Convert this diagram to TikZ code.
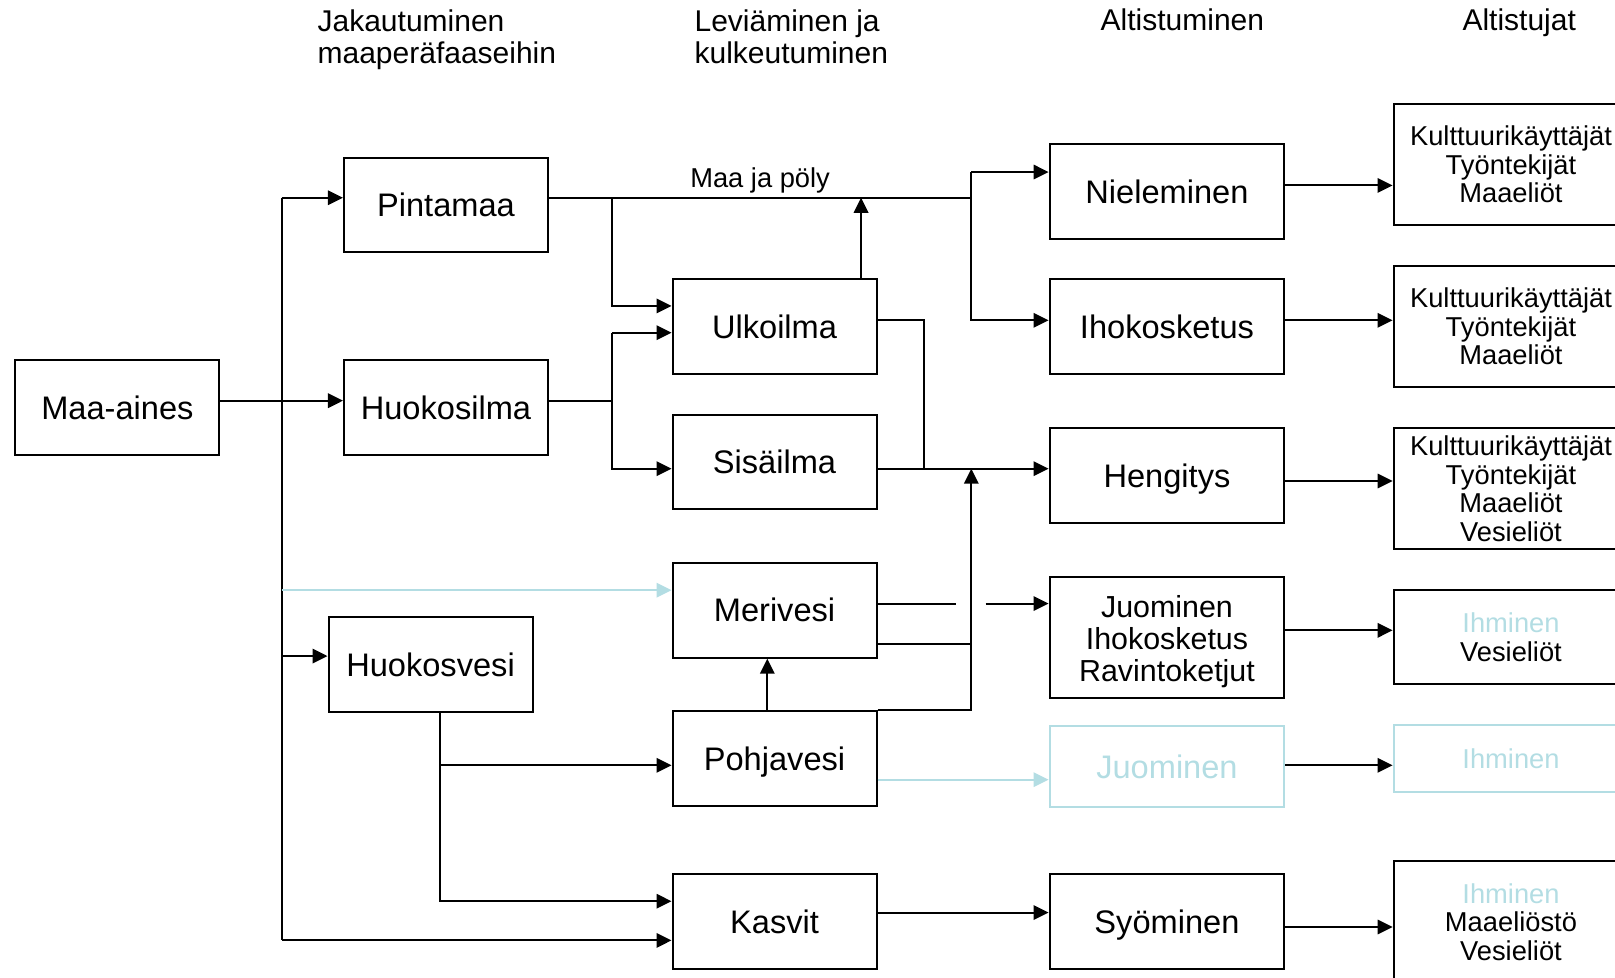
\documentclass[tikz,border=0pt]{standalone}
\usepackage{fontspec}
\setmainfont{Liberation Sans}
\usepackage{tikz}
\usetikzlibrary{positioning,calc,arrows.meta}
\definecolor{vaalea}{HTML}{B3DDE3}

\tikzset{
  laatikko/.style={draw, line width=1pt, minimum width=102pt, minimum height=47.4pt,
    inner sep=0pt, align=center, font=\fontsize{16.3}{16}\selectfont,
    text height=11.7pt, text depth=0pt},
  leve/.style={laatikko, minimum width=117.4pt},
  ryhma/.style={leve, font=\fontsize{13.65}{14.2}\selectfont, text height={}, text depth={}},
  otsikko/.style={inner sep=0pt, font=\fontsize{15}{16}\selectfont},
  viiva/.style={line width=1pt},
  nuoli/.style={line width=1pt, -{Triangle[length=7.5pt,width=7.2pt]}},
}

\begin{document}
\begin{tikzpicture}[x=0.515pt, y=-0.515pt]
    \useasboundingbox (0,0) rectangle (1568,949);

    % otsikot
    \node[otsikko, anchor=north west, align=left] (h1) at (308,9) {Jakautuminen\\maaperäfaaseihin};
    \node[otsikko, anchor=north west, align=left] (h2) at (674,9) {Leviäminen ja\\kulkeutuminen};
    \node[otsikko, anchor=base] (h3) at (1148,30) {Altistuminen};
    \node[otsikko, anchor=base] (h4) at (1475,30) {Altistujat};

    % lähde ja maaperäfaasit
    \node[laatikko] (maa) at (114,396) {Maa-aines};
    \node[laatikko] (pinta) at (433,199) {Pintamaa};
    \node[laatikko] (ilma) at (433,396) {Huokosilma};
    \node[laatikko] (vesi) at (418,645.5) {Huokosvesi};

    % leviäminen
    \node[laatikko] (ulko) at (752,317) {Ulkoilma};
    \node[laatikko] (sisa) at (752,448.5) {Sisäilma};
    \node[laatikko] (meri) at (752,592.5) {Merivesi};
    \node[laatikko] (pohja) at (752,736.5) {Pohjavesi};
    \node[laatikko] (kasvit) at (752,894.5) {Kasvit};

    % altistuminen
    \node[leve] (niel) at (1133,186) {Nieleminen};
    \node[leve] (iho) at (1133,317) {Ihokosketus};
    \node[leve] (heng) at (1133,461.5) {Hengitys};
    \node[leve, minimum height=60.8pt, text height={}, text depth={}, font=\fontsize{15.2}{16}\selectfont]
        (juoma) at (1133,619) {\rule{0pt}{15pt}Juominen\\Ihokosketus\\Ravintoketjut};
    \node[leve, minimum height=40.2pt, draw=vaalea, text=vaalea] (juom) at (1133,744) {Juominen};
    \node[leve] (syo) at (1133,894.5) {Syöminen};

    % altistujat
    \node[ryhma, minimum height=60.3pt] (a1) at (1467,159.5) {Kulttuurikäyttäjät\\Työntekijät\\Maaeliöt};
    \node[ryhma, minimum height=60.8pt] (a2) at (1467,317) {Kulttuurikäyttäjät\\Työntekijät\\Maaeliöt};
    \node[ryhma, minimum height=60.3pt] (a3) at (1467,474.5) {Kulttuurikäyttäjät\\Työntekijät\\Maaeliöt\\Vesieliöt};
    \node[ryhma, minimum height=46.9pt] (a4) at (1467,618.5) {\textcolor{vaalea}{Ihminen}\\Vesieliöt};
    \node[ryhma, minimum height=33.5pt, draw=vaalea, text=vaalea] (a5) at (1467,736.5) {Ihminen};
    \node[ryhma, minimum height=60.8pt] (a6) at (1467,895) {\textcolor{vaalea}{Ihminen}\\Maaeliöstö\\Vesieliöt};

    % haarautumiskohdat
    \coordinate (jako) at ($(maa.east)!0.5!(ilma.west)+(0,-7)$);
    \coordinate (haara1) at (594,0);
    \coordinate (haara2) at (897,0);
    \coordinate (haara3) at (943,0);

    % maa-aines jakautuu faaseihin
    \path ($(pinta.west)+(0,-7)$) coordinate (p1)
          ($(vesi.west)+(0,-8.5)$) coordinate (v1)
          ($(meri.west)+(0,-19.5)$) coordinate (m1)
          ($(kasvit.west)+(0,18.5)$) coordinate (k1);
    \draw[nuoli] ($(maa.east)+(0,-7)$) -- ($(ilma.west)+(0,-7)$);
    \draw[viiva] (jako |- p1) -- (jako |- k1);
    \draw[nuoli] (jako |- p1) -- (p1);
    \draw[nuoli] (jako |- v1) -- (v1);
    \draw[nuoli, vaalea] (jako |- m1) -- (m1);
    \draw[nuoli] (jako |- k1) -- (k1);

    % pintamaa: maa ja pöly
    \draw[viiva] (p1 -| pinta.east) -- (p1 -| haara3)
        node[midway, above=2pt, inner sep=0pt, font=\fontsize{13.65}{14}\selectfont] (mp) {Maa ja pöly};
    \draw[nuoli] (p1 -| haara1) |- ($(ulko.west)+(0,-20)$);
    \draw[nuoli] ($(ulko.north)+(84,0)$) coordinate (u1) -- (u1 |- p1);

    % huokosilma -> ulkoilma, sisäilma
    \path ($(ulko.west)+(0,6)$) coordinate (u2) ($(sisa.west)+(0,6.5)$) coordinate (s1);
    \draw[viiva] ($(ilma.east)+(0,-7)$) coordinate (i1) -- (i1 -| haara1);
    \draw[nuoli] (u2 -| haara1) -- (u2);
    \draw[nuoli] (u2 -| haara1) |- (s1);

    % ilma -> hengitys
    \draw[viiva] ($(ulko.east)+(0,-6)$) -| (haara2 |- s1);
    \draw[nuoli] (s1 -| sisa.east) -- (s1 -| heng.west);

    % nieleminen ja ihokosketus
    \path ($(niel.west)+(0,-19)$) coordinate (n1) ($(iho.west)+(0,-6)$) coordinate (i2);
    \draw[nuoli] (n1 -| haara3) -- (n1);
    \draw[nuoli] (n1 -| haara3) |- (i2);

    % vedet
    \draw[nuoli] (pohja.north east) -| (haara3 |- s1);
    \draw[viiva] ($(meri.east)+(0,32.5)$) coordinate (m2) -- (m2 -| haara3);
    \path ($(meri.east)+(0,-6.5)$) coordinate (m3);
    \draw[viiva] (m3) -- ($(m3 -| haara3)+(-15,0)$);
    \draw[nuoli] ($(m3 -| haara3)+(14,0)$) -- (m3 -| juoma.west);
    \draw[nuoli] ($(pohja.north)+(-7,0)$) coordinate (p2) -- (p2 |- meri.south);
    \draw[nuoli, vaalea] ($(pohja.east)+(0,20.5)$) coordinate (p3) -- (p3 -| juom.west);

    % huokosvesi -> pohjavesi, kasvit
    \path ($(pohja.west)+(0,6.5)$) coordinate (p4) ($(kasvit.west)+(0,-19.5)$) coordinate (k2);
    \draw[nuoli] ($(vesi.south)+(9,0)$) coordinate (v2) |- (k2);
    \draw[nuoli] (v2 |- p4) -- (p4);
    \draw[nuoli] ($(kasvit.east)+(0,-8.5)$) coordinate (k3) -- (k3 -| syo.west);

    % altistujat
    \foreach \a/\b/\d in {niel/a1/-6, iho/a2/-6, heng/a3/5.5, juoma/a4/-7, juom/a5/-1, syo/a6/5.5}
        \draw[nuoli] ($(\a.east)+(0,\d)$) coordinate (r) -- (r -| \b.west);
\end{tikzpicture}
\end{document}
